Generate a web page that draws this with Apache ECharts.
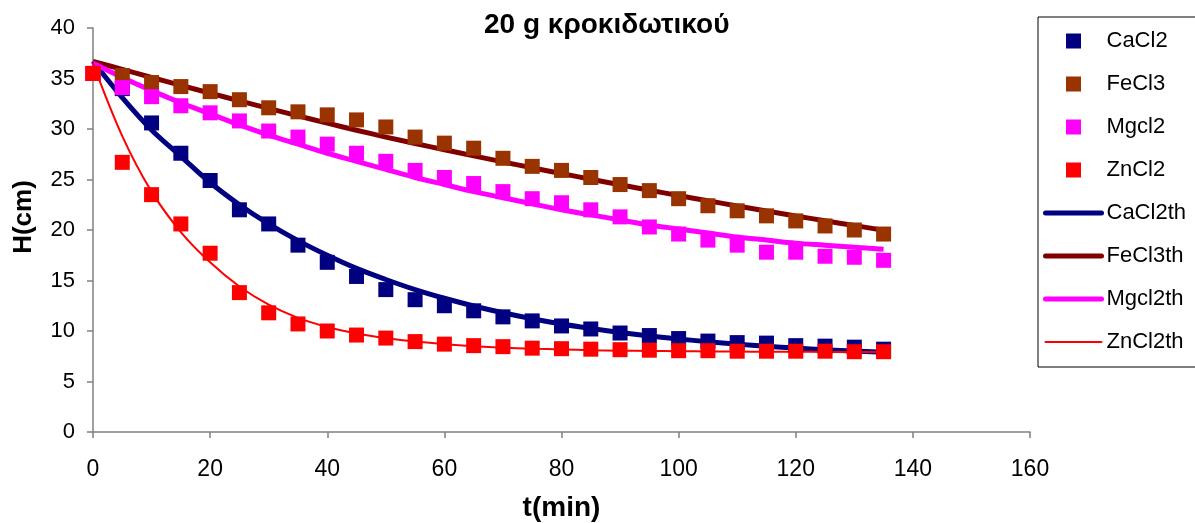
<!DOCTYPE html>
<html>
<head>
<meta charset="utf-8">
<script src="https://cdn.jsdelivr.net/npm/echarts@6/dist/echarts.min.js"></script>
<style>
html,body{margin:0;padding:0;background:#fff;}
#chart{width:1195px;height:523px;}
</style>
</head>
<body>
<div id="chart"></div>
<script>
// time in minutes
var times = [0,5,10,15,20,25,30,35,40,45,50,55,60,65,70,75,80,85,90,95,100,105,110,115,120,125,130,135];

// measured heights (cm)
var caCl2 = [35.5,34.0,30.6,27.6,24.9,22.0,20.6,18.5,16.8,15.4,14.1,13.1,12.5,12.0,11.4,11.0,10.5,10.2,9.8,9.55,9.25,9.0,8.85,8.8,8.55,8.5,8.4,8.2];
var feCl3 = [35.5,35.3,34.6,34.2,33.7,32.9,32.1,31.7,31.4,30.9,30.2,29.2,28.6,28.1,27.1,26.3,25.9,25.2,24.5,23.9,23.1,22.4,21.9,21.4,20.9,20.4,20.0,19.6];
var mgcl2 = [35.5,34.1,33.2,32.3,31.6,30.8,29.8,29.2,28.5,27.6,26.8,25.9,25.2,24.6,23.8,23.1,22.7,22.0,21.3,20.3,19.6,19.0,18.5,17.8,17.8,17.4,17.3,17.0];
var znCl2 = [35.5,26.7,23.5,20.6,17.7,13.8,11.8,10.7,10.0,9.6,9.3,8.95,8.7,8.55,8.45,8.3,8.25,8.2,8.15,8.1,8.05,8.05,8.0,8.0,8.0,8.0,7.95,7.95];

// theoretical curves (cm)
var caCl2th = [36.7,33.1,29.9,27.3,24.7,22.5,20.6,18.95,17.5,16.2,15.1,14.1,13.24,12.48,11.81,11.22,10.7,10.26,9.86,9.51,9.21,8.94,8.7,8.49,8.31,8.15,8.01,7.89];
var feCl3th = [36.7,35.9,35.1,34.32,33.55,32.79,32.04,31.3,30.58,29.88,29.2,28.57,27.95,27.34,26.74,26.16,25.59,25.03,24.48,23.94,23.41,22.89,22.38,21.88,21.39,20.91,20.44,19.98];
var mgcl2th = [36.5,35.1,33.8,32.6,31.5,30.4,29.4,28.5,27.6,26.8,26.0,25.2,24.5,23.8,23.2,22.6,22.0,21.5,21.0,20.5,20.1,19.7,19.3,19.0,18.7,18.5,18.3,18.1];
var znCl2th = [36.5,29.3,23.8,19.8,16.8,14.4,12.6,11.3,10.4,9.75,9.3,8.95,8.7,8.5,8.35,8.25,8.17,8.1,8.05,8.02,8.0,7.98,7.96,7.95,7.94,7.93,7.92,7.92];

var xTicks = [0,20,40,60,80,100,120,140,160];
var yTicks = [0,5,10,15,20,25,30,35,40];

function pairs(ys){ return times.map(function(t,i){ return [t, ys[i]]; }); }

var FONT = '"Liberation Sans", Arial, sans-serif';
var SQUARE = 'path://M0,0L10,0L10,10L0,10Z';

var chart = echarts.init(document.getElementById('chart'), null, {renderer:'canvas'});

function scatter(name, data, color){
  return {name:name, type:'scatter', data:pairs(data), symbol:'rect', symbolSize:15,
    itemStyle:{color:color, opacity:1}, z:4, animation:false};
}
function line(name, data, color, w){
  return {name:name, type:'line', data:pairs(data), smooth:0.35, showSymbol:false, symbol:'none',
    lineStyle:{color:color, width:w}, itemStyle:{color:color}, z:2, animation:false};
}
function lineLegend(name, w){
  return {name:name, itemStyle:{opacity:0}, lineStyle:{width:w, cap:'round'}};
}
function markLegend(name){
  return {name:name, icon:SQUARE};
}

chart.setOption({
  backgroundColor:'#ffffff',
  animation:false,
  title:{
    text:'20 g κροκιδωτικού', left:479, top:6,
    textStyle:{fontFamily:FONT, fontWeight:'bold', fontSize:28, color:'#000'}
  },
  grid:{left:93, right:165, top:28, bottom:91, containLabel:false, outerBoundsMode:'none'},
  xAxis:{
    type:'value', min:xTicks[0], max:xTicks[xTicks.length-1], interval:20,
    name:'t(min)', nameLocation:'middle', nameGap:62,
    nameTextStyle:{fontFamily:FONT, fontWeight:'bold', fontSize:28, color:'#000'},
    axisLine:{show:true, onZero:false, lineStyle:{color:'#808080', width:1.5}},
    axisTick:{show:true, inside:false, length:6, lineStyle:{color:'#808080', width:1.5}},
    axisLabel:{fontFamily:FONT, fontSize:23, color:'#000', margin:26},
    splitLine:{show:false}
  },
  yAxis:{
    type:'value', min:yTicks[0], max:yTicks[yTicks.length-1], interval:5,
    name:'H(cm)', nameLocation:'middle', nameGap:56, nameRotate:90,
    nameTextStyle:{fontFamily:FONT, fontWeight:'bold', fontSize:26, color:'#000', padding:[0,0,0,26]},
    axisLine:{show:true, lineStyle:{color:'#808080', width:1.5}},
    axisTick:{show:true, inside:false, length:6, lineStyle:{color:'#808080', width:1.5}},
    axisLabel:{fontFamily:FONT, fontSize:22, color:'#000', margin:18},
    splitLine:{show:false}
  },
  legend:{
    orient:'vertical', left:1038, top:17,
    padding:[13,12,14,5],
    itemWidth:56, itemHeight:15, itemGap:21,
    symbolKeepAspect:true,
    borderColor:'#000', borderWidth:1, backgroundColor:'#fff',
    textStyle:{fontFamily:FONT, fontSize:22, color:'#000'},
    data:[
      markLegend('CaCl2'), markLegend('FeCl3'), markLegend('Mgcl2'), markLegend('ZnCl2'),
      lineLegend('CaCl2th',5), lineLegend('FeCl3th',5), lineLegend('Mgcl2th',5), lineLegend('ZnCl2th',2)
    ]
  },
  series:[
    line('CaCl2th', caCl2th, '#000080', 5),
    line('FeCl3th', feCl3th, '#800000', 5),
    line('Mgcl2th', mgcl2th, '#ff00ff', 5),
    line('ZnCl2th', znCl2th, '#ff0000', 2),
    scatter('CaCl2', caCl2, '#000080'),
    scatter('FeCl3', feCl3, '#993300'),
    scatter('Mgcl2', mgcl2, '#ff00ff'),
    scatter('ZnCl2', znCl2, '#ff0000')
  ]
});
</script>
</body>
</html>
